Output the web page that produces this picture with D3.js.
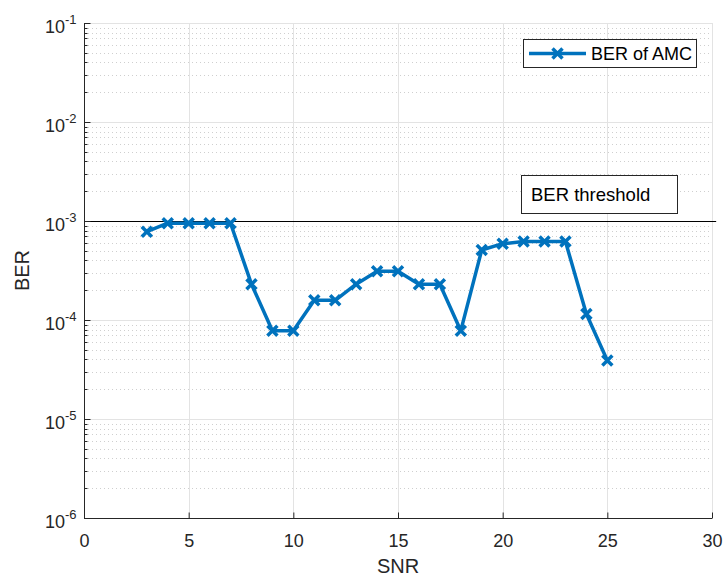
<!DOCTYPE html>
<html><head><meta charset="utf-8">
<script src="https://cdn.jsdelivr.net/npm/d3@7"></script>
<style>body{margin:0;background:#fff;} svg{display:block;font-family:"Liberation Sans",Arial,Helvetica,sans-serif;}</style>
</head><body>
<svg id="c" width="724" height="576"></svg>
<script>
const snr = [3,4,5,6,7,8,9,10,11,12,13,14,15,16,17,18,19,20,21,22,23,24,25];
const ber = [7.8e-4,9.5e-4,9.5e-4,9.5e-4,9.5e-4,2.3e-4,7.8e-5,7.8e-5,1.58e-4,1.58e-4,2.3e-4,3.1e-4,3.1e-4,2.3e-4,2.3e-4,7.8e-5,5.1e-4,5.9e-4,6.2e-4,6.2e-4,6.2e-4,1.15e-4,3.9e-5];
const xTicks = [0,5,10,15,20,25,30];
const yExponents = [-6,-5,-4,-3,-2,-1];
const threshold = 1e-3;
const seriesName = "BER of AMC";
const thresholdLabel = "BER threshold";

const svg = d3.select("#c");
const L=84, R=712, T=23, B=518;
const x = d3.scaleLinear().domain([0,30]).range([L,R]);
const y = d3.scaleLog().domain([1e-6,1e-1]).range([B,T]);
const tc = "#262626";

// minor grid (horizontal dotted)
const minors = [];
for (let e=-6;e<-1;e++) for (let m=2;m<=9;m++) minors.push(m*Math.pow(10,e));
svg.append("g").selectAll("line").data(minors).join("line")
  .attr("x1",L).attr("x2",R).attr("y1",d=>Math.round(y(d))+0.5).attr("y2",d=>Math.round(y(d))+0.5)
  .attr("stroke","#cfcfcf").attr("stroke-width",1).attr("stroke-dasharray","1,3");
// major grid
svg.append("g").selectAll("line").data(yExponents.map(e=>Math.pow(10,e))).join("line")
  .attr("x1",L).attr("x2",R).attr("y1",d=>Math.round(y(d))+0.5).attr("y2",d=>Math.round(y(d))+0.5)
  .attr("stroke","#e3e3e3").attr("stroke-width",1);
svg.append("g").selectAll("line").data(xTicks).join("line")
  .attr("x1",d=>Math.round(x(d))+0.5).attr("x2",d=>Math.round(x(d))+0.5).attr("y1",T).attr("y2",B)
  .attr("stroke","#e3e3e3").attr("stroke-width",1);

// threshold line
svg.append("line").attr("x1",x(0)).attr("x2",x(30.2))
  .attr("y1",Math.round(y(threshold))+0.5).attr("y2",Math.round(y(threshold))+0.5)
  .attr("stroke","#000").attr("stroke-width",1);

// axes
const xAxis = d3.axisBottom(x).tickValues(xTicks).tickSize(-6).tickFormat(d3.format("d"));
const gx = svg.append("g").attr("transform",`translate(0,${B+0.5})`).call(xAxis);
gx.select(".domain").attr("stroke",tc).attr("d",`M${L},0H${R}`);
gx.selectAll(".tick line").attr("stroke",tc);
gx.selectAll(".tick text").attr("fill",tc).attr("font-size",18).attr("y",28).attr("dy",null);

const gy = svg.append("g").attr("transform",`translate(${L+0.5},0)`);
gy.append("line").attr("x1",0).attr("x2",0).attr("y1",T).attr("y2",B+0.5).attr("stroke",tc);
gy.selectAll("line.mn").data(minors).join("line").attr("class","mn")
  .attr("x1",0).attr("x2",3).attr("y1",d=>Math.round(y(d))+0.5).attr("y2",d=>Math.round(y(d))+0.5).attr("stroke",tc);
gy.selectAll("line.mj").data(yExponents).join("line").attr("class","mj")
  .attr("x1",0).attr("x2",6).attr("y1",d=>Math.round(y(Math.pow(10,d)))+0.5).attr("y2",d=>Math.round(y(Math.pow(10,d)))+0.5).attr("stroke",tc);
const yl = gy.selectAll("text.yl").data(yExponents).join("text").attr("class","yl")
  .attr("x",-8).attr("y",d=>y(Math.pow(10,d))+10).attr("text-anchor","end").attr("fill",tc).attr("font-size",18);
yl.append("tspan").text("10");
yl.append("tspan").attr("dy",-9).attr("font-size",13).text(d=>d);

// axis labels
svg.append("text").attr("x",(L+R)/2).attr("y",573).attr("text-anchor","middle").attr("fill",tc).attr("font-size",20).text("SNR");
svg.append("text").attr("transform",`translate(29,${(T+B)/2}) rotate(-90)`).attr("text-anchor","middle").attr("fill",tc).attr("font-size",20).text("BER");

// series
const blue = "#0072BD";
svg.append("path").datum(snr.map((s,i)=>[s,ber[i]]))
  .attr("d",d3.line().x(d=>x(d[0])).y(d=>y(d[1])))
  .attr("fill","none").attr("stroke",blue).attr("stroke-width",3.5).attr("stroke-linejoin","round");
const mk = (g,cx,cy)=>{const s=5;
  g.append("path").attr("d",`M${cx-s},${cy-s}L${cx+s},${cy+s}M${cx-s},${cy+s}L${cx+s},${cy-s}`)
   .attr("stroke",blue).attr("stroke-width",3.5).attr("fill","none");};
const mg = svg.append("g");
snr.forEach((s,i)=>mk(mg,x(s),y(ber[i])));

// legend
const lg = svg.append("g");
lg.append("rect").attr("x",523.5).attr("y",39.5).attr("width",173).attr("height",28).attr("fill","#fff").attr("stroke","#262626").attr("stroke-width",1);
lg.append("line").attr("x1",529).attr("x2",586).attr("y1",53.5).attr("y2",53.5).attr("stroke",blue).attr("stroke-width",3.5);
mk(lg,557.5,53.5);
lg.append("text").attr("x",591).attr("y",60).attr("font-size",18).attr("fill","#000").text(seriesName);

// threshold annotation
svg.append("rect").attr("x",521.5).attr("y",175.5).attr("width",156).attr("height",38).attr("fill","#fff").attr("stroke","#262626");
svg.append("text").attr("x",531).attr("y",201).attr("font-size",18.5).attr("fill","#000").text(thresholdLabel);
</script>
</body></html>
